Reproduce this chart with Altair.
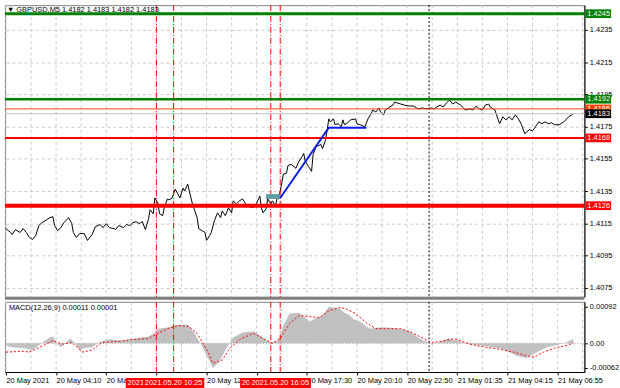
import altair as alt
import pandas as pd

FONT = "Liberation Sans"
FS = 7.5

TITLE_TEXT = "\u25bc GBPUSD,M5  1.4182 1.4183 1.4182 1.4183"
MACD_TEXT = "MACD(12,26,9) 0.00011 0.00001"

# ---- price series (bar index, close) ----
PRICE_BARS = [0, 3, 4, 6, 9, 11, 13, 15, 17, 19, 21, 23, 25, 28, 30, 31, 33, 35, 37, 40,
              42, 43, 45, 47, 50, 52, 55, 57, 60, 62, 64, 66, 69, 70, 72, 75, 77, 79, 81, 83,
              85, 87, 89, 91, 92, 94, 95, 97, 98, 100, 101, 103, 104, 106, 108, 109, 111, 113, 114, 116,
              117, 119, 122, 123, 125, 127, 128, 130, 131, 133, 135, 137, 138, 140, 142, 144, 145, 147, 149, 151,
              153, 155, 157, 159, 160, 162, 163, 164, 166, 167, 169, 170, 172, 173, 174, 176, 177, 179, 180, 182,
              185, 187, 189, 190, 191, 193, 195, 196, 198, 201, 202, 204, 205, 206, 207, 209, 210, 212, 214, 215,
              216, 218, 220, 223, 224, 226, 229, 231, 233, 234, 236, 238, 239, 241, 242, 245, 247, 248, 252, 254,
              257, 260, 263, 266, 268, 271, 273, 275, 277, 279, 281, 283, 285, 287, 290, 292, 293, 296, 298, 300,
              302, 304, 306, 308, 309, 312, 313, 315, 317, 319, 321, 323, 325, 327, 329, 331, 334, 336, 337, 340,
              342, 344, 346, 348, 350, 353, 354, 356, 359, 361, 362]
PRICE_CLOSE = [1.41118, 1.41094, 1.41081, 1.41112, 1.41094, 1.41118, 1.41094, 1.41063, 1.41051, 1.41075,
               1.41137, 1.41155, 1.41167, 1.41186, 1.41192, 1.41137, 1.41106, 1.41124, 1.41155, 1.41186,
               1.41149, 1.41094, 1.41063, 1.41087, 1.41087, 1.41045, 1.41081, 1.41130, 1.41143, 1.41124,
               1.41149, 1.41124, 1.41118, 1.41112, 1.41137, 1.41124, 1.41143, 1.41137, 1.41155, 1.41161,
               1.41149, 1.41161, 1.41112, 1.41179, 1.41235, 1.41210, 1.41308, 1.41277, 1.41210, 1.41198,
               1.41247, 1.41302, 1.41296, 1.41308, 1.41363, 1.41345, 1.41308, 1.41369, 1.41351, 1.41394,
               1.41351, 1.41271, 1.41186, 1.41118, 1.41106, 1.41094, 1.41045, 1.41075, 1.41094, 1.41167,
               1.41216, 1.41186, 1.41228, 1.41198, 1.41247, 1.41216, 1.41290, 1.41271, 1.41290, 1.41302,
               1.41271, 1.41259, 1.41247, 1.41259, 1.41277, 1.41320, 1.41247, 1.41216, 1.41241, 1.41302,
               1.41271, 1.41290, 1.41259, 1.41308, 1.41302, 1.41400, 1.41455, 1.41461, 1.41510, 1.41516,
               1.41492, 1.41535, 1.41565, 1.41584, 1.41535, 1.41504, 1.41473, 1.41578, 1.41627, 1.41639,
               1.41614, 1.41670, 1.41731, 1.41798, 1.41780, 1.41798, 1.41762, 1.41768, 1.41749, 1.41792,
               1.41762, 1.41774, 1.41792, 1.41798, 1.41768, 1.41762, 1.41749, 1.41798, 1.41829, 1.41853,
               1.41841, 1.41866, 1.41841, 1.41823, 1.41853, 1.41872, 1.41884, 1.41902, 1.41890, 1.41884,
               1.41878, 1.41878, 1.41860, 1.41866, 1.41860, 1.41866, 1.41860, 1.41872, 1.41884, 1.41872,
               1.41896, 1.41915, 1.41890, 1.41902, 1.41884, 1.41866, 1.41853, 1.41860, 1.41853, 1.41878,
               1.41860, 1.41853, 1.41884, 1.41890, 1.41872, 1.41853, 1.41823, 1.41768, 1.41811, 1.41792,
               1.41811, 1.41792, 1.41823, 1.41798, 1.41762, 1.41706, 1.41731, 1.41725, 1.41737, 1.41780,
               1.41768, 1.41780, 1.41768, 1.41774, 1.41762, 1.41762, 1.41768, 1.41780, 1.41811, 1.41823,
               1.41830]

# ---- MACD main (histogram) and signal ----
MACD_BARS = [0, 4, 11, 17, 21, 25, 28, 30, 32, 35, 38, 41, 44, 47, 50, 55, 59, 66, 74, 82,
             91, 95, 97, 103, 110, 116, 120, 124, 129, 132, 136, 141, 145, 151, 158, 164, 168, 174, 177, 181,
             187, 194, 197, 202, 206, 209, 213, 216, 219, 222, 225, 232, 238, 244, 250, 257, 263, 269, 273, 282,
             288, 295, 301, 307, 314, 320, 326, 332, 339, 345, 351, 356, 360, 362]
MACD_MAIN = [-0.00005, -0.00010, -0.00012, -0.00017, -0.00005, 0.00007, 0.00015, 0.00017, 0.00002, -0.00010,
             0.0, 0.00012, 0.0, -0.00017, -0.00012, -0.00010, 0.00002, 0.00010, 0.00007, 0.00012,
             0.00017, 0.00027, 0.00037, 0.00040, 0.00047, 0.00047, 0.00027, 0.0, -0.00037, -0.00062,
             -0.00047, -0.00010, 0.00015, 0.00027, 0.00030, 0.00015, 0.00002, 0.00007, 0.00045, 0.00075,
             0.00077, 0.00055, 0.00062, 0.00070, 0.00092, 0.00090, 0.00087, 0.00077, 0.00072, 0.00060,
             0.00057, 0.00037, 0.00040, 0.00040, 0.00037, 0.00032, 0.00015, 0.00002, -0.00002, 0.00012,
             0.00007, -0.00002, -0.00005, -0.00007, -0.00012, -0.00020, -0.00032, -0.00037, -0.00022, -0.00010,
             -0.00005, 0.0, 0.00007, 0.00011]
SIGNAL_BARS = [0, 11, 15, 23, 30, 36, 42, 49, 55, 61, 72, 82, 91, 97, 103, 110, 117, 122, 129, 132,
               138, 143, 150, 158, 164, 170, 175, 181, 187, 194, 200, 206, 213, 217, 223, 230, 236, 244, 252, 259,
               265, 271, 278, 286, 293, 299, 307, 315, 324, 331, 337, 343, 350, 358, 362]
SIGNAL_VALUES = [-0.00022, -0.00020, -0.00022, -0.00007, 0.00007, -0.00002, 0.00002, -0.00022, -0.00017, 0.00002,
                 0.00005, 0.00010, 0.00012, 0.00025, 0.00037, 0.00045, 0.00042, 0.00025, -0.00022, -0.00050,
                 -0.00042, -0.00012, 0.00012, 0.00025, 0.00012, 0.0, 0.00012, 0.00050, 0.00070, 0.00067,
                 0.00065, 0.00082, 0.00090, 0.00087, 0.00075, 0.00052, 0.00037, 0.00037, 0.00037, 0.00027,
                 0.00015, 0.00002, 0.00005, 0.00012, 0.00002, -0.00005, -0.00010, -0.00015, -0.00022, -0.00030,
                 -0.00035, -0.00022, -0.00012, -0.00005, 0.00001]

# ---- trade drawing ----
TRADE_BARS = [175, 206, 230]
TRADE_PRICES = [1.41308, 1.41743, 1.41743]
ENTRY_BARS = [166, 175]
ENTRY_PRICES = [1.41302, 1.41332]

# ---- horizontal levels ----
LEVEL_TOP = 1.4245
LEVEL_GREEN = 1.4192
LEVEL_ORANGE = 1.4186
LEVEL_BID = 1.4183
LEVEL_RED = 1.4168
LEVEL_RED_THICK = 1.4126

# ---- vertical events ----
EVENT_BARS = [96, 107, 169, 175]
EVENT_LABELS = ["2021.05.20 09:30", "2021.05.20 10:25", "2021.05.20 15:35", "2021.05.20 16:05"]
DAY_SEP_BAR = 270

# ---- axes ----
XTICK_BARS = [0, 32, 64, 96, 128, 160, 192, 224, 256, 288, 320, 352]
XTICK_LABELS = ["20 May 2021", "20 May 04:10", "20 May 06:50", "", "20 May 12:10",
                "", "20 May 17:30", "20 May 20:10", "20 May 22:50", "21 May 01:35",
                "21 May 04:15", "21 May 06:55"]
GRID_BARS = [0, 16, 32, 48, 64, 80, 96, 112, 128, 144, 160, 176, 192, 208, 224, 240, 256, 272,
             288, 304, 320, 336, 352, 368]
PRICE_TICKS = [1.4075, 1.4095, 1.4115, 1.4135, 1.4155, 1.4175, 1.4195, 1.4215, 1.4235]
MACD_TICKS = [-0.00062, 0.0, 0.00092]

W = 586
MAIN_H = 295
MACD_H = 71

xs = alt.Scale(domain=[-0.63, 369.09], nice=False, zero=False)
ys = alt.Scale(domain=[1.40695, 1.42503], nice=False, zero=False)
ms = alt.Scale(domain=[-0.000721, 0.001045], nice=False, zero=False)

GREEN = "#008000"
RED = "#ff0000"

axis_common = dict(labelFont=FONT, labelFontSize=FS, labelColor="black", tickColor="black",
                   tickSize=3, domainColor="black", labelPadding=2, title=None, zindex=0,
                   labelFlush=False, labelOverlap=False)

label_expr = "[" + ",".join("'" + s + "'" for s in XTICK_LABELS) + "][round(datum.value / 32)]"

Y_MAIN_AXIS = alt.Axis(orient="right", values=PRICE_TICKS, format=".4f", grid=True,
                       gridColor="#c8c8c8", gridDash=[3, 3], **axis_common)
X_MACD_AXIS = alt.Axis(orient="bottom", values=XTICK_BARS, labelExpr=label_expr, labelAlign="left",
                       grid=False, **axis_common)
Y_MACD_AXIS = alt.Axis(orient="right", values=MACD_TICKS, grid=False,
                       labelExpr="datum.value > 0.0005 ? '0.00092' : (datum.value < -0.0005 ? '-0.00062' : '0.00')",
                       **axis_common)

price_df = pd.DataFrame({"bar": PRICE_BARS, "price": PRICE_CLOSE})
grid_df = pd.DataFrame({"bar": GRID_BARS})
trade_df = pd.DataFrame({"bar": TRADE_BARS, "price": TRADE_PRICES})
event_df = pd.DataFrame({"bar": EVENT_BARS, "label": EVENT_LABELS})
macd_df = pd.DataFrame({"bar": MACD_BARS, "v": MACD_MAIN})
sig_df = pd.DataFrame({"bar": SIGNAL_BARS, "v": SIGNAL_VALUES})


def X(field, axis):
    return alt.X(field, scale=xs, axis=axis)


def vgrid(axis):
    return alt.Chart(grid_df).mark_rule(color="#c8c8c8", strokeDash=[3, 3], strokeWidth=1).encode(
        x=X("bar:Q", axis))


def event_lines(axis):
    return alt.Chart(event_df).mark_rule(color=RED, strokeDash=[6, 2, 1, 2], strokeWidth=1).encode(
        x=X("bar:Q", axis))


def day_sep(axis):
    return alt.Chart(pd.DataFrame({"bar": [DAY_SEP_BAR]})).mark_rule(
        color="black", strokeDash=[2, 2], strokeWidth=1).encode(x=X("bar:Q", axis))


def hline(level, color, width):
    return alt.Chart(pd.DataFrame({"level": [level]})).mark_rule(color=color, strokeWidth=width).encode(
        y=alt.Y("level:Q", scale=ys, axis=Y_MAIN_AXIS))


def tag(level, fill):
    base = alt.Chart(pd.DataFrame({"level": [level]})).transform_calculate(
        lo="datum.level - 0.00027", hi="datum.level + 0.00027")
    box = base.mark_rect(color=fill).encode(
        x=alt.value(W + 1), x2=alt.value(W + 27),
        y=alt.Y("lo:Q", scale=ys, axis=Y_MAIN_AXIS), y2="hi:Q")
    txt = base.mark_text(align="left", baseline="middle", color="white", font=FONT, fontSize=FS).encode(
        x=alt.value(W + 3), y=alt.Y("level:Q", scale=ys, axis=Y_MAIN_AXIS),
        text=alt.Text("level:Q", format=".4f"))
    return [box, txt]


price_line = alt.Chart(price_df).mark_line(color="black", strokeWidth=1).encode(
    x=X("bar:Q", None),
    y=alt.Y("price:Q", scale=ys, axis=Y_MAIN_AXIS))

entry = alt.Chart(pd.DataFrame({"b0": [ENTRY_BARS[0]], "b1": [ENTRY_BARS[1]],
                                "p0": [ENTRY_PRICES[0]], "p1": [ENTRY_PRICES[1]]})).mark_rect(
    color="#5f9e9e").encode(
    x=X("b0:Q", None), x2="b1:Q",
    y=alt.Y("p0:Q", scale=ys, axis=Y_MAIN_AXIS), y2="p1:Q")

trade = alt.Chart(trade_df).mark_line(color="#0a1ee6", strokeWidth=2).encode(
    x=X("bar:Q", None), y=alt.Y("price:Q", scale=ys, axis=Y_MAIN_AXIS))

title_txt = alt.Chart(pd.DataFrame({"t": [TITLE_TEXT]})).mark_text(
    align="left", baseline="middle", font=FONT, fontSize=FS, color="black").encode(
    x=alt.value(2), y=alt.value(5), text="t:N")

separator = alt.Chart(pd.DataFrame({"a": [0]})).mark_rule(color="#808080", strokeWidth=3).encode(
    x=alt.value(0), x2=alt.value(W), y=alt.value(MAIN_H + 1.5))

main_layers = [
    vgrid(None), price_line, event_lines(None), day_sep(None),
    hline(LEVEL_BID, "#c0c0c0", 1), hline(LEVEL_ORANGE, "#ff4500", 1),
    hline(LEVEL_TOP, GREEN, 3), hline(LEVEL_GREEN, GREEN, 2.5),
    hline(LEVEL_RED, RED, 2), hline(LEVEL_RED_THICK, RED, 4),
    entry, trade, title_txt,
]
for lvl, col in [(LEVEL_TOP, GREEN), (LEVEL_GREEN, GREEN), (LEVEL_ORANGE, "#ff4500"),
                 (LEVEL_BID, "black"), (LEVEL_RED, RED), (LEVEL_RED_THICK, RED)]:
    main_layers += tag(lvl, col)
main_layers.append(separator)

main = alt.layer(*main_layers).properties(width=W, height=MAIN_H)

zero_line = alt.Chart(pd.DataFrame({"z": [0.0]})).mark_rule(
    color="#a0a0a0", strokeDash=[1, 2], strokeWidth=1).encode(y=alt.Y("z:Q", scale=ms, axis=Y_MACD_AXIS))

hist = alt.Chart(macd_df).mark_area(color="#c0c0c0", opacity=1).encode(
    x=X("bar:Q", X_MACD_AXIS),
    y=alt.Y("v:Q", scale=ms, stack=None, axis=Y_MACD_AXIS),
    y2=alt.Y2(datum=0))

signal = alt.Chart(sig_df).mark_line(color=RED, strokeDash=[2, 2], strokeWidth=1).encode(
    x=X("bar:Q", X_MACD_AXIS), y=alt.Y("v:Q", scale=ms, axis=Y_MACD_AXIS))

macd_txt = alt.Chart(pd.DataFrame({"t": [MACD_TEXT]})).mark_text(
    align="left", baseline="middle", font=FONT, fontSize=FS, color="black").encode(
    x=alt.value(4), y=alt.value(6), text="t:N")

macd_layers = [vgrid(X_MACD_AXIS), zero_line, hist, signal, event_lines(X_MACD_AXIS),
               day_sep(X_MACD_AXIS), macd_txt]
for b, lab in zip(EVENT_BARS, EVENT_LABELS):
    one = alt.Chart(pd.DataFrame({"bar": [b], "label": [lab]}))
    macd_layers.append(one.mark_rect(color=RED, xOffset=-31, x2Offset=31).encode(
        x=X("bar:Q", X_MACD_AXIS), x2="bar:Q",
        y=alt.value(MACD_H + 6), y2=alt.value(MACD_H + 17)))
    macd_layers.append(one.mark_text(
        align="center", baseline="middle", font=FONT, fontSize=FS, color="white").encode(
        x=X("bar:Q", X_MACD_AXIS), y=alt.value(MACD_H + 11), text="label:N"))

macd = alt.layer(*macd_layers).properties(width=W, height=MACD_H)

chart = alt.vconcat(main, macd, spacing=0).properties(
    padding={"left": 2, "top": 2, "right": 0, "bottom": 0},
    background="white",
).configure_view(stroke="#808080", strokeWidth=1)

chart.save("out.html", embed_options={"renderer": "svg", "actions": False})
